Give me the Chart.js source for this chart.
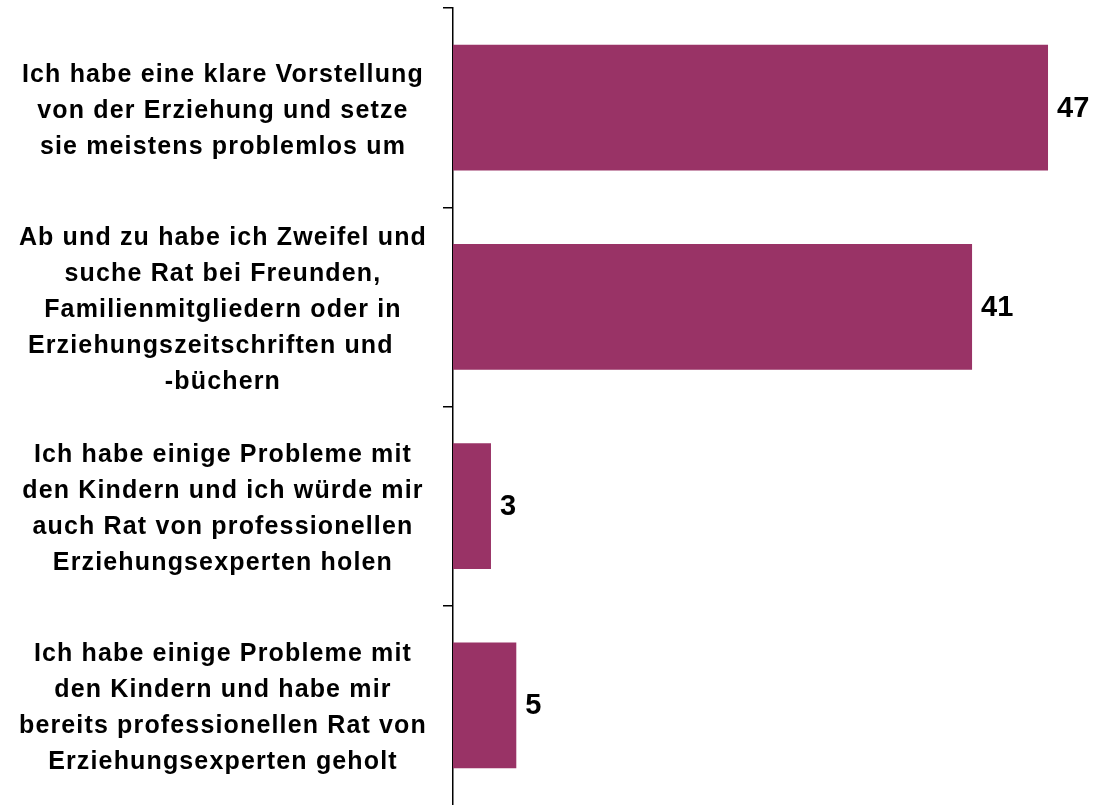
<!DOCTYPE html>
<html>
<head>
<meta charset="utf-8">
<script src="https://cdn.jsdelivr.net/npm/chart.js@4"></script>
<style>
  html, body { margin: 0; padding: 0; background: #fff; }
  #wrap { width: 1094px; height: 805px; }
</style>
</head>
<body>
<div id="wrap"><canvas id="chart"></canvas></div>
<script>
// categories, one array of lines per bar
const categories = [
    ['Ich habe eine klare Vorstellung', 'von der Erziehung und setze', 'sie meistens problemlos um'],
    ['Ab und zu habe ich Zweifel und', 'suche Rat bei Freunden,', 'Familienmitgliedern oder in', 'Erziehungszeitschriften und   ', '-büchern'],
    ['Ich habe einige Probleme mit', 'den Kindern und ich würde mir', 'auch Rat von professionellen', 'Erziehungsexperten holen'],
    ['Ich habe einige Probleme mit', 'den Kindern und habe mir', 'bereits professionellen Rat von', 'Erziehungsexperten geholt']
];
const values = [47, 41, 3, 5];
const barColor = '#993366';

// the labels in the picture are a bit wider than plain Arial
const spacing = {
    id: 'spacing',
    beforeLayout(chart) { chart.ctx.letterSpacing = '1.15px'; },
    beforeDraw(chart) { chart.ctx.letterSpacing = '1.15px'; }
};

// value labels to the right of each bar
const valueLabels = {
    id: 'valueLabels',
    afterDatasetsDraw(chart) {
        const c = chart.ctx;
        const meta = chart.getDatasetMeta(0);
        c.save();
        c.letterSpacing = '0px';
        c.font = 'bold 29px "Liberation Sans", Arial, sans-serif';
        c.fillStyle = '#000';
        c.textAlign = 'left';
        c.textBaseline = 'middle';
        meta.data.forEach((bar, i) => {
            c.fillText(String(values[i]), bar.x + 9, bar.y + 1);
        });
        c.restore();
    }
};

const ctx = document.getElementById('chart').getContext('2d');
new Chart(ctx, {
    type: 'bar',
    data: {
        labels: categories,
        datasets: [{
            data: values,
            backgroundColor: barColor,
            borderWidth: 0,
            barPercentage: 0.63,
            categoryPercentage: 1
        }]
    },
    options: {
        indexAxis: 'y',
        responsive: true,
        maintainAspectRatio: false,
        animation: false,
        layout: { padding: { top: 8, right: 8, bottom: -2, left: 0 } },
        plugins: {
            legend: { display: false },
            tooltip: { enabled: false }
        },
        scales: {
            x: {
                display: false,
                min: 0,
                max: 50
            },
            y: {
                afterFit: (scale) => {
                    scale.width = 453;
                    scale.paddingTop = 0;
                    scale.paddingBottom = 0;
                },
                grid: {
                    offset: true,
                    drawOnChartArea: false,
                    tickLength: 10,
                    // the closing line at the bottom has no tick context, hide it
                    color: (c) => c.type === 'tick' ? '#000' : 'rgba(0,0,0,0)',
                    lineWidth: 1.5
                },
                border: { color: '#000', width: 1.5 },
                ticks: {
                    crossAlign: 'center',
                    padding: 16,
                    labelOffset: 3,
                    color: '#000',
                    font: { family: '"Liberation Sans", Arial, sans-serif', size: 25, weight: 'bold', lineHeight: '36px' }
                }
            }
        }
    },
    plugins: [spacing, valueLabels]
});
</script>
</body>
</html>
